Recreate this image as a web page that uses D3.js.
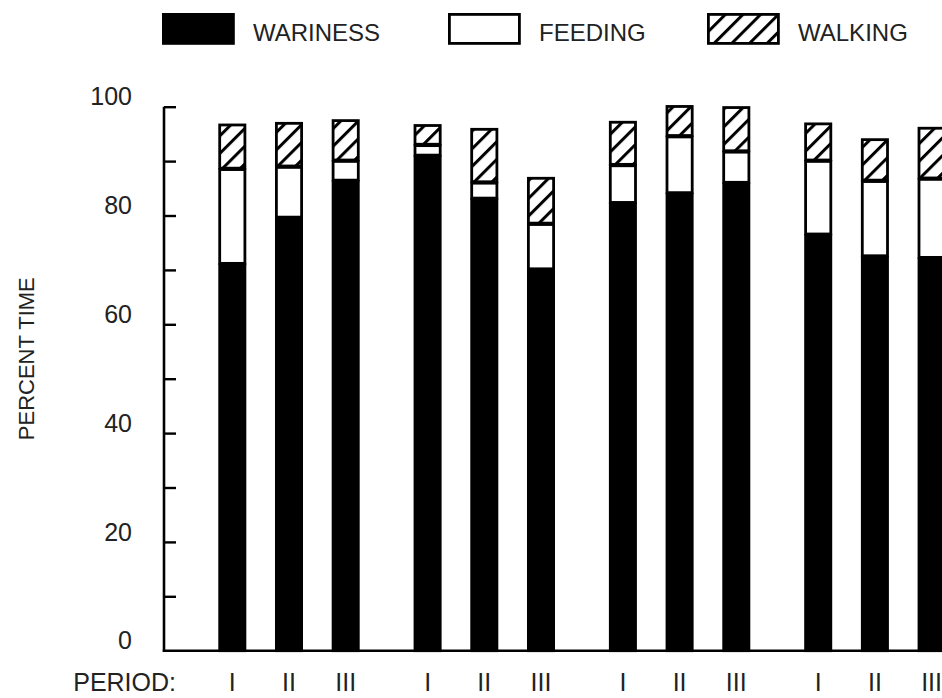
<!DOCTYPE html>
<html>
<head>
<meta charset="utf-8">
<script src="https://cdn.jsdelivr.net/npm/d3@7/dist/d3.min.js"></script>
<style>
  html, body { margin: 0; padding: 0; background: #fff; }
  svg { display: block; font-family: "Liberation Sans", Arial, Helvetica, sans-serif; }
</style>
</head>
<body>
<svg id="chart" width="942" height="698"></svg>
<script>
// ---- data ----
const groups = ["A", "B", "C", "D"];
const periods = ["I", "II", "III"];
const seriesNames = ["WARINESS", "FEEDING", "WALKING"];
// values in the order A-I, A-II, A-III, B-I, ... D-III
const wariness = [71.2, 79.7, 86.5, 91.1, 83.2, 70.2, 82.4, 84.2, 86.1, 76.6, 72.6, 72.3];
const feeding  = [17.5,  9.4,  3.7,  2.0,  3.0,  8.4,  7.0, 10.5,  5.8, 13.6, 13.9, 14.6];
const walking  = [ 8.2,  8.1,  7.5,  3.7,  9.9,  8.5,  8.0,  5.6,  8.2,  6.9,  7.7,  9.4];
const yTickLabels = [0, 20, 40, 60, 80, 100];
const yMinorTicks = [10, 20, 30, 40, 50, 60, 70, 80, 90, 100];
const yTitle = "PERCENT TIME";
const periodTitle = "PERIOD:";

// ---- build table ----
const rows = [];
groups.forEach((g, gi) => periods.forEach((p, pi) => {
  const i = gi * periods.length + pi;
  rows.push({ group: g, period: p, WARINESS: wariness[i], FEEDING: feeding[i], WALKING: walking[i] });
}));

const svg = d3.select("#chart");
const baseY = 650.7, topY = 106.7, axisX = 164;

// hatch pattern
const defs = svg.append("defs");
const hp = 12.5;
const pat = defs.append("pattern")
  .attr("id", "hatch").attr("patternUnits", "userSpaceOnUse")
  .attr("width", hp).attr("height", hp)
  .attr("patternTransform", "rotate(45)");
pat.append("rect").attr("width", hp).attr("height", hp).attr("fill", "#fff");
pat.append("line").attr("x1", 1.5).attr("y1", 0).attr("x2", 1.5).attr("y2", hp)
  .attr("stroke", "#000").attr("stroke-width", 3);

const fills = { WARINESS: "#000", FEEDING: "#fff", WALKING: "url(#hatch)" };

// scales
const y = d3.scaleLinear().domain([0, 100]).range([baseY, topY]);
const xOuter = d3.scaleBand().domain(groups).range([218.3, 945.6]).paddingInner(0.276).paddingOuter(0);
const xInner = d3.scaleBand().domain(periods).range([0, xOuter.bandwidth()]).paddingInner(0.506).paddingOuter(0);

// stacked bars
const stack = d3.stack().keys(seriesNames)(rows);
const sw = 2.8;
stack.forEach(layer => {
  svg.append("g").selectAll("rect").data(layer).join("rect")
    .attr("x", d => xOuter(d.data.group) + xInner(d.data.period) + sw / 2)
    .attr("width", xInner.bandwidth() - sw)
    .attr("y", d => y(d[1]) + sw / 2)
    .attr("height", d => Math.max(0, y(d[0]) - y(d[1]) - sw / 2))
    .attr("fill", fills[layer.key])
    .attr("stroke", "#000").attr("stroke-width", sw);
});

// y axis (ticks pointing inward)
const yAxis = d3.axisRight(y).tickValues(yMinorTicks).tickSize(12).tickFormat("");
const ga = svg.append("g").attr("transform", `translate(${axisX},0)`).call(yAxis);
ga.select(".domain").remove();
ga.selectAll(".tick line").attr("stroke", "#000").attr("stroke-width", 2.4);
svg.append("line").attr("x1", axisX).attr("x2", axisX).attr("y1", y(100)).attr("y2", baseY + 1.2)
  .attr("stroke", "#000").attr("stroke-width", 2.6);
svg.append("line").attr("x1", axisX - 1.2).attr("x2", 942).attr("y1", baseY).attr("y2", baseY)
  .attr("stroke", "#000").attr("stroke-width", 2.6);

// y tick labels (sit slightly above their ticks)
svg.append("g").selectAll("text").data(yTickLabels).join("text")
  .attr("x", 132).attr("y", d => y(d) - 10)
  .attr("dy", "0.35em").attr("text-anchor", "end")
  .attr("font-size", 25).attr("fill", "#222")
  .text(d => d);

// y title
svg.append("text")
  .attr("transform", `translate(34,${(topY + baseY) / 2 - 20}) rotate(-90)`)
  .attr("text-anchor", "middle").attr("font-size", 22).attr("fill", "#222")
  .text(yTitle);

// period labels
svg.append("g").selectAll("text").data(rows).join("text")
  .attr("x", d => xOuter(d.group) + xInner(d.period) + xInner.bandwidth() / 2)
  .attr("y", 682).attr("dy", "0.35em").attr("text-anchor", "middle")
  .attr("font-size", 25).attr("fill", "#222")
  .text(d => d.period);
svg.append("text").attr("x", 176).attr("y", 682).attr("dy", "0.35em")
  .attr("text-anchor", "end").attr("font-size", 25).attr("fill", "#222")
  .text(periodTitle);

// legend
const legendX = [162, 448, 707];
const lg = svg.append("g").selectAll("g").data(seriesNames).join("g")
  .attr("transform", (d, i) => `translate(${legendX[i]},13)`);
lg.append("rect").attr("x", 1.4).attr("y", 1.4).attr("width", 70).attr("height", 29)
  .attr("fill", d => fills[d]).attr("stroke", "#000").attr("stroke-width", 2.8);
lg.append("text").attr("x", 91).attr("y", 20).attr("dy", "0.35em")
  .attr("font-size", 24).attr("fill", "#222")
  .text(d => d);
</script>
</body>
</html>
